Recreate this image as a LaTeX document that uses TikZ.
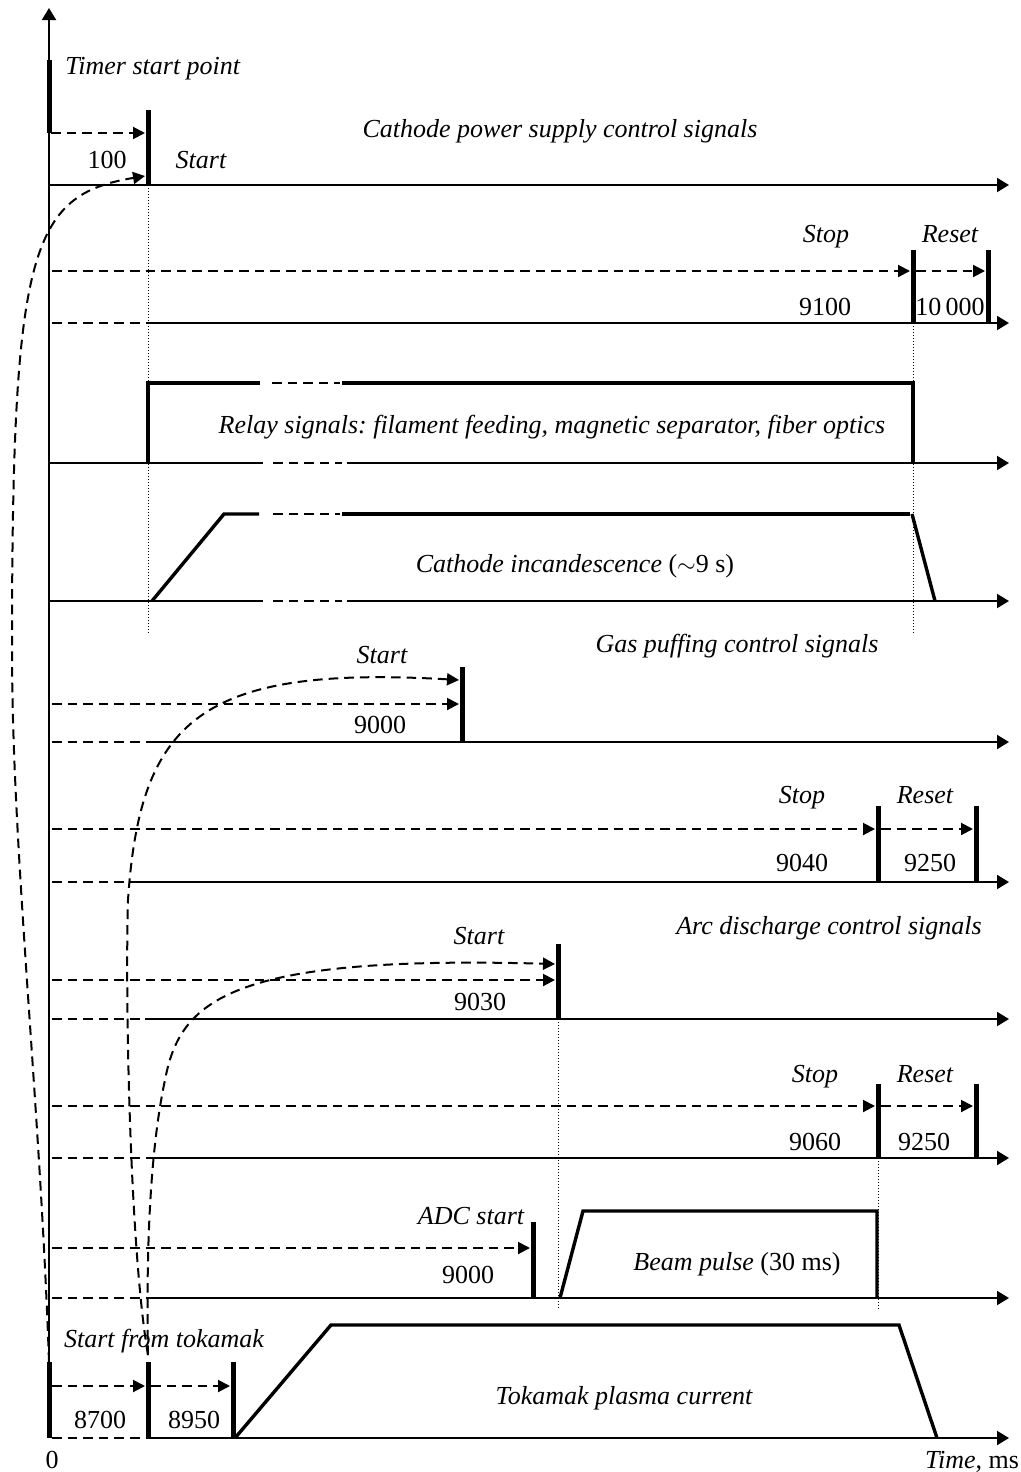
\documentclass[tikz,border=0pt]{standalone}
\usepackage{fontspec}
\setmainfont{Liberation Serif}
\usetikzlibrary{arrows.meta}
\frenchspacing

\begin{document}
\begin{tikzpicture}[
    x=0.5pt, y=-0.5pt,
    >={Triangle[length=6pt,width=6pt]},
    every node/.style={font=\fontsize{13}{15}\selectfont, inner sep=0pt},
    lbl/.style={anchor=base, font=\fontsize{13}{15}\selectfont\itshape},
    num/.style={anchor=base},
    timeaxis/.style={line width=1pt, -{Triangle[length=6pt,width=7pt]}},
    baseln/.style={line width=1pt},
    sig/.style={line width=1.7pt, line join=miter},
    tbar/.style={line width=2.5pt},
    dline/.style={line width=1pt, dash pattern=on 4.8pt off 3pt},
    vdots/.style={line width=0.4pt, dash pattern=on 0.5pt off 1pt}
]

    \useasboundingbox (0,0) rectangle (1021,1472);

    % Guide lines
    \draw[vdots] (148,185) -- (148,635);
    \draw[vdots] (913,323) -- (913,635);
    \draw[vdots] (558,1019) -- (558,1310);
    \draw[vdots] (878,1158) -- (878,1310);

    % Time axis
    \draw[timeaxis] (49,1438) -- (49,8);

    % Horizontal axes
    \draw[timeaxis] (49,185) -- (1009,185);
    \foreach \y/\s in {323/148, 742/148, 882/130, 1019/145, 1158/151, 1298/147, 1438/148} {
        \draw[dline] (52,\y) -- (\s,\y);
        \draw[timeaxis] (\s,\y) -- (1009,\y);
    }
    \foreach \y in {463, 601} {
        \draw[baseln] (49,\y) -- (263,\y);
        \draw[dline] (273,\y) -- (342,\y);
        \draw[timeaxis] (347,\y) -- (1009,\y);
    }

    % Markers
    \foreach \x/\a/\b in {49/60/133, 148/110/185, 913/250/323, 988/250/323,
                          462/667/742, 878/806/882, 976/806/882,
                          558/944/1019, 878/1084/1158, 976/1084/1158,
                          533/1222/1298, 49/1362/1438, 148/1362/1438, 233/1362/1438}
        \draw[tbar] (\x,\a) -- (\x,\b);

    % Delays
    \foreach \a/\b/\y in {51/145/133, 52/910/271, 916/985/271, 52/459/704,
                          52/875/829, 881/973/829, 52/555/980, 52/875/1106,
                          881/973/1106, 52/530/1248, 52/145/1386, 151/230/1386}
        \draw[dline, ->] (\a,\y) -- (\b,\y);

    % Trigger from tokamak
    \coordinate (tokA) at (49,1362);
    \coordinate (tokB) at (148,1355);
    \coordinate (cps) at (145,176);
    \coordinate (gas) at (459,680);
    \coordinate (arc) at (555,964);
    \draw[dline, ->] (tokA) .. controls (40,1100) and (12,850) .. (12,650)
        .. controls (12,250) and (30,195) .. (cps);
    \draw[dline, ->] (tokB) .. controls (130,1250) and (125,1000) .. (128,900)
        .. controls (140,720) and (200,665) .. (gas);
    \draw[dline, ->] (tokB) .. controls (146,1250) and (150,1150) .. (165,1080)
        .. controls (180,1000) and (230,955) .. (arc);

    % Relay signals
    \draw[sig] (260,383) -- (148,383) -- (148,463);
    \draw[dline] (272,383) -- (340,383);
    \draw[sig] (342,383) -- (913,383) -- (913,463);

    % Cathode incandescence
    \draw[sig] (152,601) -- (224,514) -- (259,514);
    \draw[dline] (273,514) -- (340,514);
    \draw[sig] (342,514) -- (910,514);
    \draw[sig] (912,514) -- (935,601);

    % Beam pulse
    \draw[sig] (560,1298) -- (583,1211) -- (877,1211) -- (877,1298);

    % Plasma current
    \draw[sig] (235,1438) -- (331,1325) -- (899,1325) -- (937,1438);

    % Labels
    \node[lbl, anchor=base west] (timer) at (65,74) {Timer start point};
    \node[num] (d100) at (107,168) {100};
    \node[lbl] (cstart) at (201,168) {Start};
    \node[lbl] (cps title) at (560,137) {Cathode power supply control signals};
    \node[lbl] (cstop) at (826,242) {Stop};
    \node[lbl] (creset) at (950,242) {Reset};
    \node[num] (d9100) at (825,315) {9100};
    \node[num] (d10000) at (950,315) {10\,000};
    \node[lbl] (relay) at (552,433) {Relay signals: filament feeding, magnetic separator, fiber optics};
    \node[lbl] (incand) at (575,572) {Cathode incandescence \upshape($\sim$9 s)};
    \node[lbl] (gas title) at (737,652) {Gas puffing control signals};
    \node[lbl] (gstart) at (382,663) {Start};
    \node[num] (d9000a) at (380,733) {9000};
    \node[lbl] (gstop) at (802,803) {Stop};
    \node[lbl] (greset) at (925,803) {Reset};
    \node[num] (d9040) at (802,871) {9040};
    \node[num] (d9250a) at (930,871) {9250};
    \node[lbl] (arc title) at (829,934) {Arc discharge control signals};
    \node[lbl] (astart) at (479,944) {Start};
    \node[num] (d9030) at (480,1010) {9030};
    \node[lbl] (astop) at (815,1082) {Stop};
    \node[lbl] (areset) at (925,1082) {Reset};
    \node[num] (d9060) at (815,1150) {9060};
    \node[num] (d9250b) at (924,1150) {9250};
    \node[lbl] (adc) at (471,1224) {ADC start};
    \node[num] (d9000b) at (468,1283) {9000};
    \node[lbl] (beam) at (737,1270) {Beam pulse \upshape(30 ms)};
    \node[lbl] (tstart) at (164,1347) {Start from tokamak};
    \node[num] (d8700) at (100,1428) {8700};
    \node[num] (d8950) at (194,1428) {8950};
    \node[lbl] (plasma) at (624,1404) {Tokamak plasma current};
    \node[num] (zero) at (52,1468) {0};
    \node[lbl] (time) at (972,1468) {Time\upshape, ms};

\end{tikzpicture}
\end{document}
